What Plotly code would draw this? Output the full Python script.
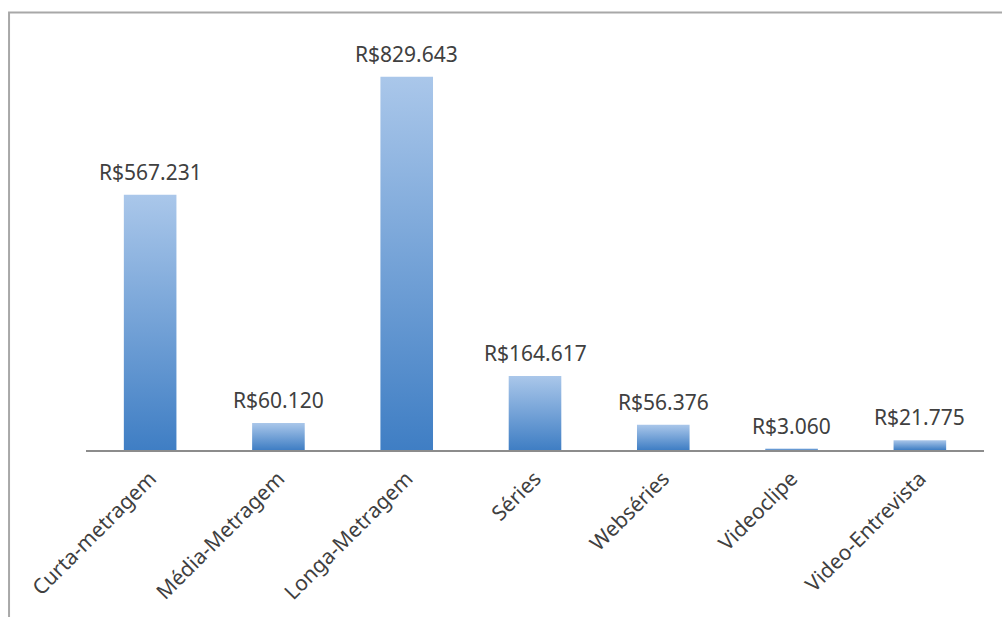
import plotly.graph_objects as go

# Categories and values (R$)
categorias = ["Curta-metragem", "Média-Metragem", "Longa-Metragem", "Séries",
              "Webséries", "Videoclipe", "Video-Entrevista"]
valores = [567231, 60120, 829643, 164617, 56376, 3060, 21775]
rotulos = ["R$567.231", "R$60.120", "R$829.643", "R$164.617",
           "R$56.376", "R$3.060", "R$21.775"]

FONT = "Noto Sans"
TEXT_COLOR = "#404040"
HALF_W = 0.205

fig = go.Figure()

# Each bar is a filled polygon so it can carry a vertical gradient
for i, v in enumerate(valores):
    fig.add_trace(go.Scatter(
        x=[i - HALF_W, i - HALF_W, i + HALF_W, i + HALF_W, i - HALF_W],
        y=[0, v, v, 0, 0],
        mode="none",
        fill="toself",
        fillgradient=dict(type="vertical",
                          colorscale=[[0, "#3f7ec4"], [1, "#aac7ea"]]),
        hoverinfo="skip",
        showlegend=False,
    ))

# Value labels above each bar
for i, (v, t) in enumerate(zip(valores, rotulos)):
    fig.add_annotation(
        x=i, y=v, text=t, showarrow=False,
        yanchor="bottom", yshift=7,
        font=dict(family=FONT, size=21, color=TEXT_COLOR),
    )

# Outer frame of the chart
fig.add_shape(type="rect", xref="paper", yref="paper",
              x0=-0.0857, x1=1.05, y0=-0.5, y1=1.080,
              line=dict(color="#a8a8a8", width=2), layer="below")

fig.update_layout(
    width=1002, height=617,
    margin=dict(l=86, r=18, t=45, b=167),
    paper_bgcolor="white", plot_bgcolor="white",
    xaxis=dict(
        range=[-0.5, 6.5],
        tickmode="array", tickvals=list(range(len(categorias))),
        ticktext=categorias, tickangle=-45,
        showgrid=False, zeroline=False,
        showline=True, linecolor="#8c8c8c", linewidth=2,
        ticks="outside", ticklen=6, tickcolor="rgba(0,0,0,0)",
        tickfont=dict(family=FONT, size=21, color=TEXT_COLOR),
        fixedrange=True,
    ),
    yaxis=dict(
        range=[0, 900000], visible=False, showgrid=False, zeroline=False,
        fixedrange=True,
    ),
)

fig.write_html("out.html")
